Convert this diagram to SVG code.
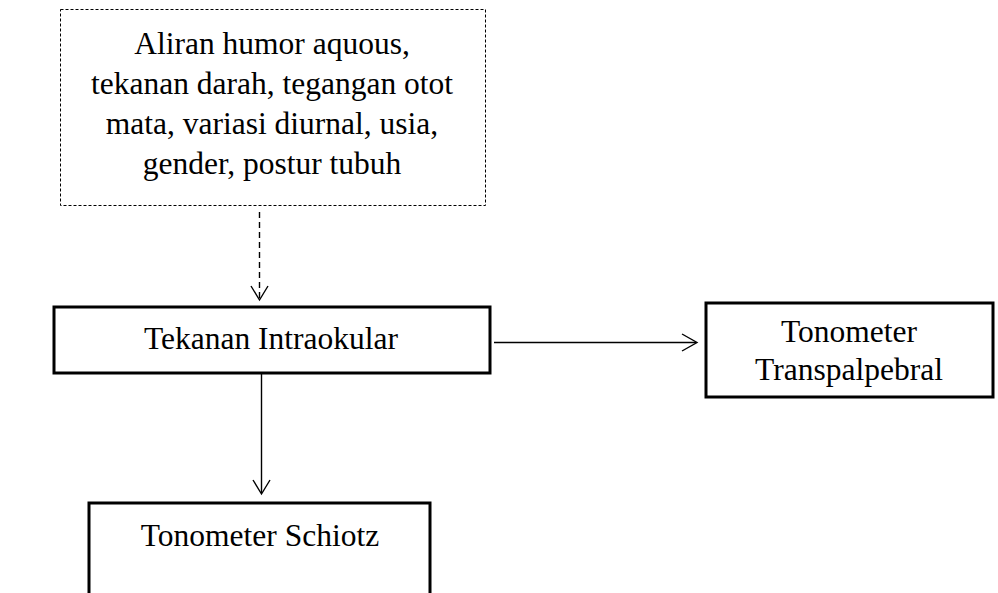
<svg xmlns="http://www.w3.org/2000/svg" width="998" height="593" viewBox="0 0 998 593">
<style>
text{font-family:"Liberation Serif","Times New Roman",serif;font-size:31.5px;fill:#000;text-anchor:middle}
.box{fill:#fff;stroke:#000;stroke-width:3}
.dbox{fill:#fff;stroke:#000;stroke-width:1;stroke-dasharray:3,2}
.conn{fill:none;stroke:#000;stroke-width:1.4}
.head{fill:none;stroke:#000;stroke-width:1.4}
</style>
<rect width="998" height="593" fill="#fff"/>
<g id="factors">
<rect class="dbox" x="60.5" y="9.5" width="425" height="196"/>
<text x="272" y="54">Aliran humor aquous,</text>
<text x="272" y="94">tekanan darah, tegangan otot</text>
<text x="272" y="134">mata, variasi diurnal, usia,</text>
<text x="272" y="174">gender, postur tubuh</text>
</g>
<g id="tio">
<rect class="box" x="54" y="307" width="436" height="66"/>
<text x="271" y="349">Tekanan Intraokular</text>
</g>
<g id="transpalpebral">
<rect class="box" x="706" y="303" width="287" height="94"/>
<text x="849" y="342">Tonometer</text>
<text x="849" y="380">Transpalpebral</text>
</g>
<g id="schiotz">
<rect class="box" x="89" y="503" width="341" height="110"/>
<text x="260" y="546">Tonometer Schiotz</text>
</g>
<g id="connectors">
<line class="conn" x1="259.5" y1="212" x2="259.5" y2="299" stroke-dasharray="6,4"/>
<polyline class="head" points="251,286 259.5,300 268,286"/>
<line class="conn" x1="494" y1="342.5" x2="696" y2="342.5"/>
<polyline class="head" points="682,334 697,342.5 682,351"/>
<line class="conn" x1="261.5" y1="374" x2="261.5" y2="493"/>
<polyline class="head" points="253,480 261.5,494 270,480"/>
</g>
</svg>
